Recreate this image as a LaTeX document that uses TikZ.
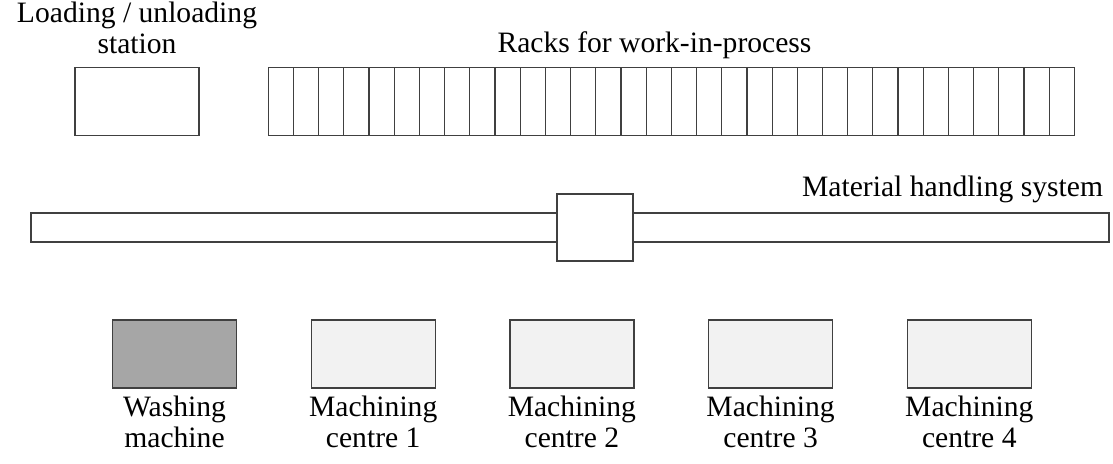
\documentclass[tikz,border=0pt]{standalone}
\usepackage{fontspec}
\setmainfont{Liberation Serif}
\usepackage{xcolor}
\usepackage{tikz}
\usetikzlibrary{positioning}

\definecolor{washgray}{HTML}{A6A6A6}
\definecolor{machgray}{HTML}{F2F2F2}
\definecolor{linegray}{HTML}{404040}

\begin{document}
\begin{tikzpicture}[
    x=0.5pt, y=-0.5pt,
    every node/.style={inner sep=0pt, outer sep=0pt},
    caption/.style={font=\fontsize{14.8}{15.5}\selectfont, align=center, anchor=base},
    box/.style={draw=linegray, line width=0.6pt, minimum width=62pt, minimum height=34pt}
]
\tikzstyle{rackcell} = [draw=linegray, line width=0.6pt, minimum width=12.6pt, minimum height=33.75pt]
\tikzstyle{track} = [draw=linegray, line width=0.6pt, fill=white, minimum width=539pt, minimum height=14.5pt]
\tikzstyle{carriage} = [draw=linegray, line width=0.6pt, fill=white, minimum width=38pt, minimum height=33.5pt]
\useasboundingbox (0,0) rectangle (1113,463);

% Loading station and racks
\node[box] (loadbox) at (137,101.5) {};
\node[caption] (loadlabel) at (137,53) {Loading / unloading\\station};
\foreach \i in {0,...,31}
    \node[rackcell] (rack\i) at ({280.9+25.19*\i},101.5) {};
\node[caption] (racklabel) at (654.5,52) {Racks for work-in-process};

% Material handling system
\node[track] (track) at (570,227.5) {};
\node[carriage] (carriage) at (595,227.5) {};
\node[caption, anchor=base east] (tracklabel) at (1103,196) {Material handling system};

% Stations
\node[box, fill=washgray] (wash) at (174.5,354) {};
\node[caption] (washlabel) at (174.5,447) {Washing\\machine};
\foreach \i in {1,...,4} {
    \node[box, fill=machgray] (mc\i) at ({174.5+198.7*\i},354) {};
    \node[caption] (mclabel\i) at ({174.5+198.7*\i},447) {Machining\\centre~\i};
}
\end{tikzpicture}
\end{document}
